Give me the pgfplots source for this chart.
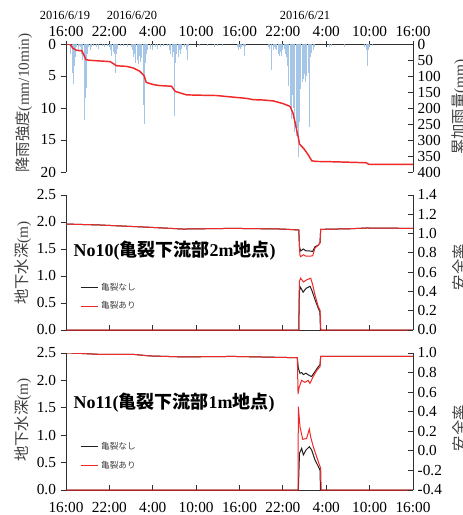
\documentclass[border=0pt]{standalone}
\usepackage{fontspec}
\setmainfont{Liberation Serif}
\newfontfamily\cjk{Noto Sans CJK JP}
\usepackage{pgfplots}
\usepackage{pgfplotstable}
\pgfplotsset{compat=1.18}
\definecolor{rain}{HTML}{9CC0E6}
\definecolor{cum}{HTML}{F02828}
\definecolor{nocrack}{HTML}{202020}
\definecolor{axisgray}{HTML}{303030}
\definecolor{labelgray}{HTML}{404040}
\newcommand{\tk}{\fontsize{11.5}{12}\selectfont}

% 10-min rainfall (hours from 2016/6/19 16:00, mm/10min)
\pgfplotstableread{
h v
0.50 0.3
0.67 1.5
0.83 4.5
1.00 6.3
1.17 3.5
1.33 2.0
1.50 0.5
1.67 1.0
1.83 0.3
2.00 0.5
2.17 1.5
2.33 2.5
2.50 11.8
2.67 8.4
2.83 6.8
3.00 1.5
3.17 0.5
3.33 1.0
3.50 0.5
3.83 0.3
4.17 0.5
4.50 0.8
5.00 0.3
5.33 0.5
5.67 0.3
6.00 0.5
6.17 1.0
6.33 1.8
6.50 1.2
6.67 1.5
6.83 4.5
7.00 1.6
7.17 0.8
7.50 0.3
8.00 0.3
8.50 0.5
9.00 0.5
9.17 1.0
9.33 2.0
9.50 1.5
9.67 3.0
9.83 2.5
10.00 3.2
10.17 1.8
10.33 2.8
10.50 2.2
10.67 9.6
10.83 12.5
11.00 3.0
11.17 1.5
11.33 1.0
11.67 0.8
12.00 1.0
12.33 0.5
12.67 0.8
13.00 0.5
13.50 0.3
14.00 0.3
14.33 1.0
14.50 1.5
14.67 2.0
14.83 1.2
15.00 11.3
15.17 3.0
15.33 1.5
15.50 2.0
15.67 1.0
15.83 1.5
16.00 0.8
16.33 0.5
16.67 1.0
16.83 2.5
17.00 0.3
18.50 0.3
19.50 0.3
20.50 0.5
21.00 0.3
21.67 0.3
23.67 0.5
23.83 1.0
24.00 0.5
24.17 0.8
24.33 0.5
24.50 0.3
24.67 1.9
24.83 0.3
28.00 0.5
28.17 0.8
28.44 4.0
28.67 1.0
28.83 0.5
29.00 0.8
29.17 1.0
29.33 1.5
29.50 1.8
29.67 1.2
29.83 1.9
30.00 1.0
30.17 0.8
30.33 1.5
30.50 2.0
30.67 3.5
30.83 6.5
31.00 9.6
31.17 11.7
31.33 8.0
31.50 10.0
31.67 13.8
31.83 14.3
32.00 13.2
32.17 17.6
32.33 12.2
32.50 7.0
32.67 6.0
32.83 5.5
33.00 4.7
33.17 6.0
33.33 5.0
33.50 4.5
33.67 13.0
33.83 2.0
34.00 1.4
34.17 0.9
34.33 0.5
36.50 0.5
36.67 0.3
38.50 0.5
41.33 0.5
41.50 1.0
41.67 3.5
41.83 1.0
42.00 0.5
42.33 0.3
}\raintab

% cumulative rainfall (mm)
\pgfplotstableread{
h v
0 0
0.55 0
0.92 12.5
1.47 20
2.2 21
2.76 49
3.3 51
4.7 53
6.1 55
7.0 68
8.4 70
9.3 75
10.2 85
10.8 99
11.1 120
12.1 127
13.0 130
14.6 132
15.1 148
15.8 153
16.7 159
18.5 160
20.8 161
23.1 166
25.0 170
25.9 174
27.3 175
28.7 178
30.0 186
31.0 195
31.4 216
31.8 257
32.2 299
32.3 313
32.9 327
33.5 346
34.0 365
34.6 367
36.9 368
41.5 371
41.9 376
48 376
}\cumtab

\pgfplotsset{
  base/.style={
    scale only axis, width=260.25pt, xmin=0, xmax=48,
    xtick={0,6,...,48},
    tick label style={font=\tk},
    /pgf/number format/assume math mode=true,
    axis line style={axisgray, line width=0.6pt},
    tick style={axisgray, line width=0.6pt},
    major tick length=4pt,
  },
  oneDec/.style={yticklabel style={/pgf/number format/.cd, fixed, fixed zerofill, precision=1}},
  lg/.style={
    legend style={draw=none, fill=none, font=\cjk\fontsize{6.5}{7}\selectfont, text=labelgray,
      at={(0.04,0.37)}, anchor=north west, row sep=3pt, inner sep=0pt},
    legend cell align=left,
    legend image code/.code={\draw[##1] (0pt,0pt)--(13pt,0pt);},
  },
}

\begin{document}
\begin{tikzpicture}
\useasboundingbox (0,0) rectangle (347.25pt,-386.25pt);

% ---------- top panel: rainfall ----------
\begin{axis}[base, at={(49.5pt,-129pt)}, anchor=south west, height=96pt,
  ymin=0, ymax=20, y dir=reverse, ytick={0,5,...,20},
  axis x line*=top, axis y line*=left,
  xticklabels={16:00,22:00,4:00,10:00,16:00,22:00,4:00,10:00,16:00},
  xtick align=center, ytick align=outside]
\addplot[ycomb, rain, opacity=0.9, line width=0.7pt, mark=none] table {\raintab};
\end{axis}
\begin{axis}[base, at={(49.5pt,-129pt)}, anchor=south west, height=96pt,
  ymin=0, ymax=400, y dir=reverse, ytick={0,50,...,400},
  axis x line=none, axis y line*=right, ytick align=inside]
\addplot[cum, line width=1.1pt, mark=none] table {\cumtab};
\end{axis}

% ---------- middle panel: No10 ----------
\begin{axis}[base, oneDec, lg, at={(49.5pt,-247.5pt)}, anchor=south west, height=101.25pt,
  ymin=0, ymax=2.5, ytick={0,0.5,...,2.5},
  axis x line*=bottom, axis y line*=left, xticklabels={}, xtick align=inside, ytick align=outside]
\addplot[nocrack, line width=0.75pt, mark=none] coordinates {
 (0,0) (32.2,0) (32.28,0.72) (32.45,0.79) (32.8,0.70) (33.2,0.77) (33.75,0.81)
 (34.0,0.74) (34.45,0.56) (34.9,0.40) (35.12,0.34) (35.2,0) (48,0)};
\addlegendentry{亀裂なし}
\addplot[cum, line width=0.75pt, mark=none] coordinates {
 (0,0) (32.2,0) (32.28,0.90) (32.45,0.96) (32.85,0.89) (33.3,0.93) (33.85,0.96)
 (34.1,0.85) (34.5,0.62) (34.9,0.43) (35.15,0.36) (35.25,0) (48,0)};
\addlegendentry{亀裂あり}
\end{axis}
\begin{axis}[base, oneDec, at={(49.5pt,-247.5pt)}, anchor=south west, height=101.25pt,
  ymin=0, ymax=1.4, ytick={0,0.2,...,1.4},
  axis x line=none, axis y line*=right, ytick align=inside]
\addplot[nocrack, line width=0.75pt, mark=none] coordinates {
 (0,1.099) (4.7,1.089) (11.6,1.065) (16.2,1.047) (23.1,1.054) (30,1.047) (32.2,1.037)
 (32.3,0.86) (32.46,0.82) (32.83,0.84) (33.2,0.82) (33.66,0.82) (34.12,0.815)
 (34.44,0.864) (34.9,0.88) (35.14,0.905) (35.23,1.044) (39.3,1.05) (41.6,1.058) (48,1.054)};
\addplot[cum, line width=0.75pt, mark=none] coordinates {
 (0,1.099) (4.7,1.089) (11.6,1.065) (16.2,1.047) (23.1,1.054) (30,1.047) (32.2,1.037)
 (32.35,0.78) (32.46,0.76) (32.83,0.78) (33.2,0.765) (33.66,0.765) (34.12,0.77)
 (34.44,0.85) (34.9,0.88) (35.14,0.905) (35.23,1.044) (39.3,1.05) (41.6,1.058) (48,1.054)};
\end{axis}

% ---------- bottom panel: No11 ----------
\begin{axis}[base, oneDec, lg, at={(49.5pt,-367.5pt)}, anchor=south west, height=102.75pt,
  ymin=0, ymax=2.5, ytick={0,0.5,...,2.5},
  axis x line*=bottom, axis y line*=left,
  xticklabels={16:00,22:00,4:00,10:00,16:00,22:00,4:00,10:00,16:00},
  xticklabel style={yshift=-6pt},
  xtick align=inside, ytick align=outside]
\addplot[nocrack, line width=0.75pt, mark=none] coordinates {
 (0,0) (32.1,0) (32.14,0.0) (32.3,0.67) (32.6,0.76) (32.83,0.64) (33.2,0.73)
 (33.66,0.79) (33.98,0.73) (34.44,0.55) (34.9,0.43) (35.14,0.36) (35.2,0) (48,0)};
\addlegendentry{亀裂なし}
\addplot[cum, line width=0.75pt, mark=none] coordinates {
 (0,0) (32.1,0) (32.14,1.52) (32.37,1.155) (32.74,0.925) (33.28,0.94) (33.66,1.11)
 (33.84,0.97) (34.21,0.79) (34.67,0.61) (35.05,0.46) (35.23,0.40) (35.3,0) (48,0)};
\addlegendentry{亀裂あり}
\end{axis}
\begin{axis}[base, oneDec, at={(49.5pt,-367.5pt)}, anchor=south west, height=102.75pt,
  ymin=-0.4, ymax=1.0, ytick={-0.4,-0.2,...,1.0},
  axis x line=none, axis y line*=right, ytick align=inside]
\addplot[nocrack, line width=0.75pt, mark=none] coordinates {
 (0,1.003) (4.7,0.986) (9.3,0.986) (11.6,0.97) (16.2,0.96) (23.1,0.965) (32.0,0.952)
 (32.14,0.844) (32.37,0.793) (32.6,0.80) (32.83,0.78) (33.2,0.793) (33.66,0.77)
 (33.98,0.76) (34.44,0.81) (34.9,0.86) (35.14,0.88) (35.23,0.966) (48,0.966)};
\addplot[cum, line width=0.75pt, mark=none] coordinates {
 (0,1.003) (4.7,0.986) (9.3,0.986) (11.6,0.97) (16.2,0.96) (23.1,0.965) (32.0,0.952)
 (32.1,0.58) (32.25,0.65) (32.6,0.72) (33.05,0.70) (33.5,0.72) (33.74,0.69)
 (34.21,0.76) (34.67,0.82) (35.14,0.86) (35.23,0.966) (48,0.966)};
\end{axis}

% ---------- text ----------
\begin{scope}[x=0.75pt, y=-0.75pt]
\node[font=\fontsize{9.3}{10}\selectfont] at (65,15) {2016/6/19};
\node[font=\fontsize{9.3}{10}\selectfont] at (132,15) {2016/6/20};
\node[font=\fontsize{9.3}{10}\selectfont] at (305,15) {2016/6/21};
\node[font=\tk, text=labelgray, rotate=90] at (24,103) {{\cjk 降雨強度}(mm/10min)};
\node[font=\tk, text=labelgray, rotate=90] at (23,263) {{\cjk 地下水深}(m)};
\node[font=\tk, text=labelgray, rotate=90] at (23,420) {{\cjk 地下水深}(m)};
\node[font=\tk, text=labelgray, rotate=90, anchor=north, inner sep=0pt] at (452,107) {{\cjk 累加雨量}(mm)};
\node[font=\tk, text=labelgray, rotate=90, anchor=north, inner sep=0pt] at (452,267) {\cjk 安全率};
\node[font=\tk, text=labelgray, rotate=90, anchor=north, inner sep=0pt] at (452,428) {\cjk 安全率};
\node[font=\fontsize{13.5}{14}\selectfont\bfseries, anchor=west] at (69,251) {No10({\cjk\bfseries 亀裂下流部}2m{\cjk\bfseries 地点})};
\node[font=\fontsize{13.5}{14}\selectfont\bfseries, anchor=west] at (69,403) {No11({\cjk\bfseries 亀裂下流部}1m{\cjk\bfseries 地点})};
\end{scope}
\end{tikzpicture}
\end{document}
